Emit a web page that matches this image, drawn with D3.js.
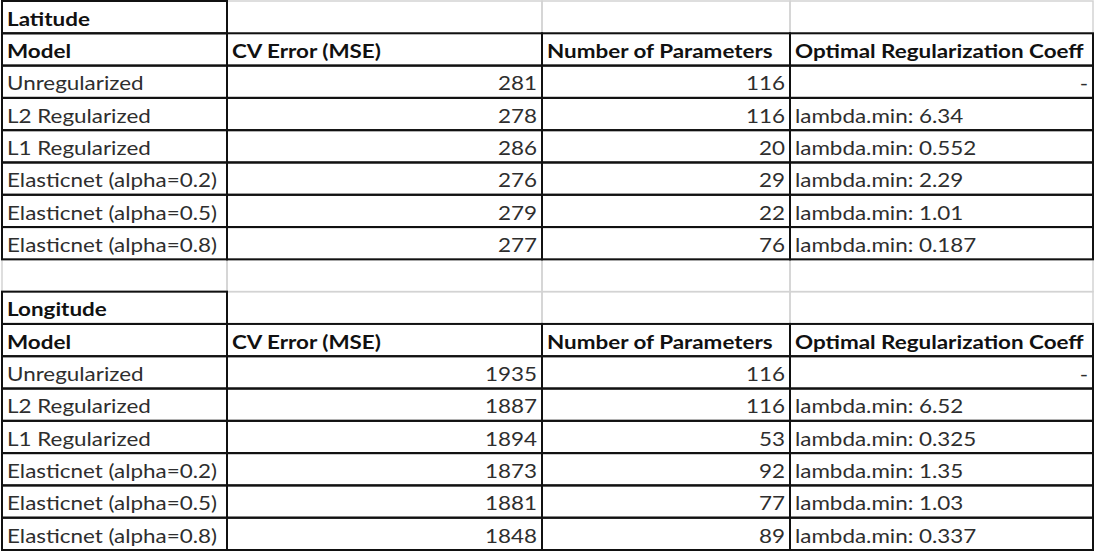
<!DOCTYPE html>
<html><head><meta charset="utf-8">
<script src="https://cdn.jsdelivr.net/npm/d3@7"></script>
<style>
html,body{margin:0;padding:0;background:#fff;}
svg{display:block;}
text{font-family:Lato,"Open Sans",sans-serif;font-size:19.5px;}
</style></head><body>
<svg id="c" width="1095" height="552"></svg>
<script>
const headers = ["Model","CV Error (MSE)","Number of Parameters","Optimal Regularization Coeff"];
const sections = ["Latitude","Longitude"];
const models = ["Unregularized","L2 Regularized","L1 Regularized","Elasticnet (alpha=0.2)","Elasticnet (alpha=0.5)","Elasticnet (alpha=0.8)"];
const latMSE = [281,278,286,276,279,277];
const latParams = [116,116,20,29,22,76];
const latCoeff = ["-","lambda.min: 6.34","lambda.min: 0.552","lambda.min: 2.29","lambda.min: 1.01","lambda.min: 0.187"];
const lonMSE = [1935,1887,1894,1873,1881,1848];
const lonParams = [116,116,53,92,77,89];
const lonCoeff = ["-","lambda.min: 6.52","lambda.min: 0.325","lambda.min: 1.35","lambda.min: 1.03","lambda.min: 0.337"];

const rows = [];
function addSection(name, mse, params, coeff){
  rows.push({type:"section", cells:[name,"","",""]});
  rows.push({type:"header", cells:headers});
  models.forEach((m,i)=>rows.push({type:"data", cells:[m, mse[i], params[i], coeff[i]]}));
}
addSection(sections[0], latMSE, latParams, latCoeff);
rows.push({type:"blank", cells:["","","",""]});
addSection(sections[1], lonMSE, lonParams, lonCoeff);

const svg = d3.select("#c");
const colEdges = [2,227,542,790,1093];
const y = d3.scaleBand().domain(d3.range(rows.length)).range([1,550]);
const x = d3.scaleOrdinal().domain(d3.range(4)).range(colEdges.slice(0,4));
const w = i => colEdges[i+1]-colEdges[i];
const sx = 1.15;

const grid = svg.append("g");
const gray = "#d3d3d3";
rows.forEach((r,ri)=>{
  for(let c=0;c<4;c++){
    grid.append("rect").attr("x",x(c)).attr("y",y(ri)).attr("width",w(c)).attr("height",y.bandwidth())
      .attr("fill","none").attr("stroke",gray).attr("stroke-width",1.5);
  }
});
const black = svg.append("g");
rows.forEach((r,ri)=>{
  for(let c=0;c<4;c++){
    const bordered = (r.type==="header"||r.type==="data") || (r.type==="section" && c===0);
    if(!bordered) continue;
    black.append("rect").attr("x",x(c)).attr("y",y(ri)).attr("width",w(c)).attr("height",y.bandwidth())
      .attr("fill","none").attr("stroke","#111").attr("stroke-width",2);
  }
});
const tg = svg.append("g");
rows.forEach((r,ri)=>{
  r.cells.forEach((v,c)=>{
    if(v==="") return;
    const bold = r.type!=="data";
    const right = r.type==="data" && (c===1||c===2||(c===3 && v==="-"));
    const tx = right ? x(c)+w(c)-5 : x(c)+5;
    const ty = y(ri)+y.bandwidth()-7.5;
    tg.append("text")
      .attr("transform", `translate(${tx},${ty}) scale(${sx},1)`)
      .attr("text-anchor", right?"end":"start")
      .attr("font-weight", bold?"bold":"normal")
      .attr("fill", bold?"#111":"#2e2e2e")
      .text(v);
  });
});
</script></body></html>
